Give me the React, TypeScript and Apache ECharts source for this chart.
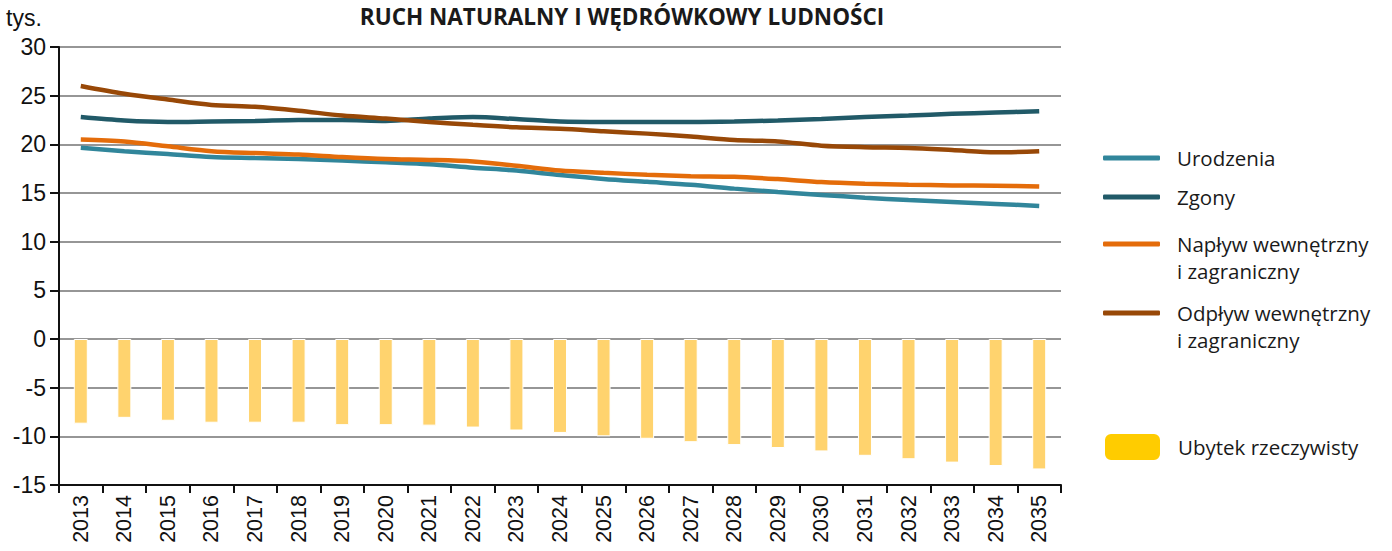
import React, { useEffect, useRef } from "react";
import * as echarts from "echarts";

const years = [
  "2013", "2014", "2015", "2016", "2017", "2018", "2019", "2020", "2021", "2022", "2023", "2024",
  "2025", "2026", "2027", "2028", "2029", "2030", "2031", "2032", "2033", "2034", "2035",
];

const urodzenia = [
  19.65, 19.3, 19.0, 18.7, 18.6, 18.5, 18.33, 18.15, 17.95, 17.6, 17.3, 16.85,
  16.45, 16.15, 15.85, 15.45, 15.1, 14.8, 14.52, 14.28, 14.08, 13.88, 13.67,
];
const zgony = [
  22.8, 22.45, 22.3, 22.35, 22.4, 22.5, 22.5, 22.4, 22.65, 22.8, 22.6, 22.35,
  22.3, 22.3, 22.3, 22.35, 22.45, 22.6, 22.8, 22.96, 23.13, 23.27, 23.4,
];
const naplyw = [
  20.5, 20.3, 19.8, 19.3, 19.1, 18.95, 18.7, 18.5, 18.4, 18.23, 17.8, 17.3,
  17.07, 16.87, 16.73, 16.67, 16.43, 16.12, 15.95, 15.85, 15.78, 15.75, 15.68,
];
const odplyw = [
  26.0, 25.2, 24.6, 24.05, 23.85, 23.45, 22.96, 22.65, 22.3, 22.0, 21.75, 21.6,
  21.35, 21.1, 20.8, 20.44, 20.3, 19.86, 19.7, 19.63, 19.42, 19.18, 19.3,
];
const ubytek = [
  -8.7, -8.1, -8.4, -8.6, -8.6, -8.6, -8.85, -8.85, -8.9, -9.1, -9.4, -9.65,
  -10.0, -10.25, -10.6, -10.9, -11.2, -11.55, -12.0, -12.35, -12.7, -13.05, -13.4,
];

const yTicks = { min: -15, max: 30, interval: 5 };

const TITLE = "RUCH NATURALNY I WĘDRÓWKOWY LUDNOŚCI";
const UNIT = "tys.";
const NAMES = {
  ur: "Urodzenia",
  zg: "Zgony",
  na: "Napływ wewnętrzny i zagraniczny",
  od: "Odpływ wewnętrzny i zagraniczny",
  ub: "Ubytek rzeczywisty",
};

const COLORS = {
  ur: "#31869b",
  zg: "#215a68",
  na: "#e46c0a",
  od: "#984807",
  bar: "#ffd36e",
  barLegend: "#ffcc00",
};

const LEGEND_FONT = "'Open Sans', 'Noto Sans', sans-serif";
const AXIS_FONT = "'Liberation Sans', Arial, sans-serif";

function lineLegend(name: string, top: number, twoLine: boolean) {
  return {
    data: [{ name }],
    left: 1103,
    top,
    padding: 0,
    icon: "roundRect",
    itemWidth: 57,
    itemHeight: 5,
    selectedMode: false,
    formatter: (n: string) => (twoLine ? "\n" + n.replace(" i ", "\ni ") : n),
    textStyle: {
      fontFamily: LEGEND_FONT,
      fontSize: 20.5,
      color: "#1a1a1a",
      lineHeight: 27,
      padding: [0, 0, 0, 12],
    },
  };
}

export default function App() {
  const ref = useRef<HTMLDivElement>(null);

  useEffect(() => {
    if (!ref.current) return;
    const chart = echarts.init(ref.current, undefined, { renderer: "svg" });
    const lineSeries = (name: string, data: number[], color: string) => ({
      name,
      type: "line",
      data,
      smooth: 0.3,
      showSymbol: false,
      symbol: "none",
      lineStyle: { color, width: 4.5, cap: "butt" },
      itemStyle: { color },
      z: 3,
    });
    chart.setOption({
      animation: false,
      backgroundColor: "#ffffff",
      title: {
        text: TITLE,
        left: 617,
        textAlign: "center",
        top: 0,
        textStyle: {
          fontFamily: "'Open Sans', sans-serif",
          fontWeight: "bold",
          fontSize: 22.5,
          color: "#1a1a1a",
        },
      },
      grid: { left: 59, right: 331, top: 47, bottom: 66, containLabel: false },
      legend: [
        lineLegend(NAMES.ur, 144.5, false),
        lineLegend(NAMES.zg, 183.5, false),
        lineLegend(NAMES.na, 203.5, true),
        lineLegend(NAMES.od, 272.5, true),
        {
          data: [{ name: NAMES.ub, itemStyle: { color: COLORS.barLegend } }],
          left: 1103,
          top: 432,
          padding: 0,
          icon: "roundRect",
          itemWidth: 57,
          itemHeight: 28,
          selectedMode: false,
          textStyle: {
            fontFamily: LEGEND_FONT,
            fontSize: 20.5,
            color: "#1a1a1a",
            lineHeight: 27,
            padding: [0, 0, 0, 12],
          },
        },
      ],
      xAxis: {
        type: "category",
        data: years,
        boundaryGap: true,
        axisLine: { onZero: false, lineStyle: { color: "#111", width: 2 } },
        axisTick: { show: true, length: 8, lineStyle: { color: "#111", width: 2 } },
        axisLabel: {
          rotate: 90,
          margin: 10,
          fontFamily: AXIS_FONT,
          fontSize: 21.5,
          color: "#111",
          interval: 0,
        },
        splitLine: { show: false },
      },
      yAxis: {
        type: "value",
        min: yTicks.min,
        max: yTicks.max,
        interval: yTicks.interval,
        axisLine: { show: true, lineStyle: { color: "#111", width: 2 } },
        axisTick: { show: true, length: 9, lineStyle: { color: "#111", width: 2 } },
        axisLabel: {
          margin: 13,
          fontFamily: AXIS_FONT,
          fontSize: 23,
          color: "#111",
        },
        splitLine: { show: true, lineStyle: { color: "#969696", width: 2 } },
      },
      graphic: [
        {
          type: "text",
          left: 6,
          top: 6,
          style: {
            text: UNIT,
            fontFamily: AXIS_FONT,
            fontSize: 23,
            fill: "#111",
          },
        },
      ],
      series: [
        {
          name: NAMES.ub,
          type: "bar",
          data: ubytek,
          barWidth: 14,
          itemStyle: { color: COLORS.bar, borderColor: "#ffffff", borderWidth: 1 },
          z: 2,
        },
        lineSeries(NAMES.ur, urodzenia, COLORS.ur),
        lineSeries(NAMES.zg, zgony, COLORS.zg),
        lineSeries(NAMES.na, naplyw, COLORS.na),
        lineSeries(NAMES.od, odplyw, COLORS.od),
      ],
    });
    return () => chart.dispose();
  }, []);

  return (
    <div
      ref={ref}
      style={{ position: "absolute", left: 0, top: 0, width: 1392, height: 551 }}
    />
  );
}
